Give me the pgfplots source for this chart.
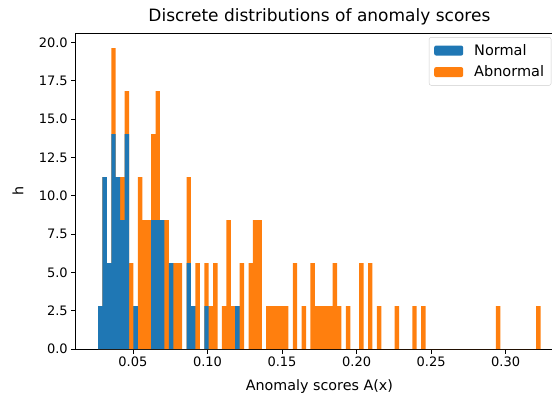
\documentclass[border=0pt]{standalone}
\usepackage{fontspec}
\setmainfont{DejaVu Sans}
\usepackage{pgfplots}
\pgfplotsset{compat=1.18}
\definecolor{CBlue}{HTML}{1F77B4}
\definecolor{COrange}{HTML}{FF7F0E}

\begin{document}
\begin{tikzpicture}
\begin{axis}[
  scale only axis,
  width=487pt, height=316pt,
  xmin=0.01173, xmax=0.3384,
  ymin=0, ymax=20.63,
  font=\fontsize{13}{15}\selectfont,
  /pgf/number format/assume math mode=true,
  xtick={0.05,0.10,0.15,0.20,0.25,0.30},
  ytick={0,2.5,5,7.5,10,12.5,15,17.5,20},
  xticklabel style={/pgf/number format/.cd,fixed,fixed zerofill,precision=2},
  yticklabel style={/pgf/number format/.cd,fixed,fixed zerofill,precision=1},
  scaled ticks=false,
  tick pos=left,
  tick align=outside,
  major tick length=4.6pt,
  major tick style={line width=0.9pt,black},
  axis line style={line width=0.9pt,black},
  title={Discrete distributions of anomaly scores},
  title style={font=\fontsize{17}{20}\selectfont,at={(axis description cs:0.5,1)},anchor=center,yshift=10pt},
  xlabel={Anomaly scores A(x)},
  xlabel style={font=\fontsize{14.3}{17}\selectfont,at={(axis description cs:0.5,0)},anchor=center,yshift=-38pt},
  ylabel={h},
  ylabel style={font=\fontsize{14.3}{17}\selectfont,at={(axis description cs:0,0.5)},anchor=center,yshift=58pt},
  legend style={at={(0.725,0.987)},anchor=north west,draw=black!20,fill=white,
    rounded corners=2pt,font=\fontsize{14.5}{17}\selectfont,
    inner xsep=5pt,inner ysep=5pt,row sep=5pt,cells={anchor=west},
    /tikz/every odd column/.style={column sep=9pt}},
  legend image code/.code={\path[#1] (0pt,-5pt) rectangle (29pt,5pt);},
  reverse legend,
]
\coordinate (O) at (rel axis cs:0,0);
% stacked total (top of the orange part)
\addplot[const plot mark left,fill=COrange,draw=none] coordinates {
(0.02657,2.807) (0.02954,11.228) (0.03251,5.614) (0.03548,19.649)
(0.03845,11.228) (0.04142,11.228) (0.04438,16.842) (0.04735,5.614)
(0.05032,2.807) (0.05329,11.228) (0.05626,8.421) (0.05923,8.421)
(0.06220,14.035) (0.06517,16.842) (0.06814,8.421) (0.07111,8.421)
(0.07407,5.614) (0.07704,5.614) (0.08001,5.614) (0.08298,0)
(0.08595,11.228) (0.08892,2.807) (0.09189,5.614) (0.09486,0)
(0.09783,5.614) (0.10080,2.807) (0.10376,5.614) (0.10673,0)
(0.10970,2.807) (0.11267,8.421) (0.11564,2.807) (0.11861,2.807)
(0.12158,5.614) (0.12455,0) (0.12752,5.614) (0.13049,8.421)
(0.13345,8.421) (0.13642,0) (0.13939,2.807) (0.14236,2.807)
(0.14533,2.807) (0.14830,2.807) (0.15127,2.807) (0.15424,0)
(0.15721,5.614) (0.16018,0) (0.16314,2.807) (0.16611,0)
(0.16908,5.614) (0.17205,2.807) (0.17502,2.807) (0.17799,2.807)
(0.18096,2.807) (0.18393,5.614) (0.18690,2.807) (0.18987,0)
(0.19283,2.807) (0.19580,0) (0.20174,5.614) (0.20471,0)
(0.20768,5.614) (0.21065,0) (0.21362,2.807) (0.21659,0)
(0.22549,2.807) (0.22846,0) (0.23737,2.807) (0.24034,0)
(0.24331,2.807) (0.24628,0) (0.29347,2.807) (0.29644,0)
(0.32050,2.807) (0.32347,0)
} \closedcycle;
\addlegendentry{Abnormal}
% normal part (bottom of the stack)
\addplot[const plot mark left,fill=CBlue,draw=none] coordinates {
(0.02657,2.807) (0.02954,11.228) (0.03251,5.614) (0.03548,14.035)
(0.03845,11.228) (0.04142,8.421) (0.04438,14.035) (0.04735,0)
(0.05032,2.807) (0.05329,0) (0.06220,8.421) (0.07111,0)
(0.07407,5.614) (0.07704,0) (0.08595,5.614) (0.08892,2.807)
(0.09189,0) (0.09783,2.807) (0.10080,0) (0.11861,2.807)
(0.12158,0)
} \closedcycle;
\addlegendentry{Normal}
\end{axis}
\pgfresetboundingbox
\path[use as bounding box] ([xshift=-75.9pt,yshift=-51pt]O) rectangle ([xshift=476.1pt,yshift=349pt]O);
\end{tikzpicture}
\end{document}
